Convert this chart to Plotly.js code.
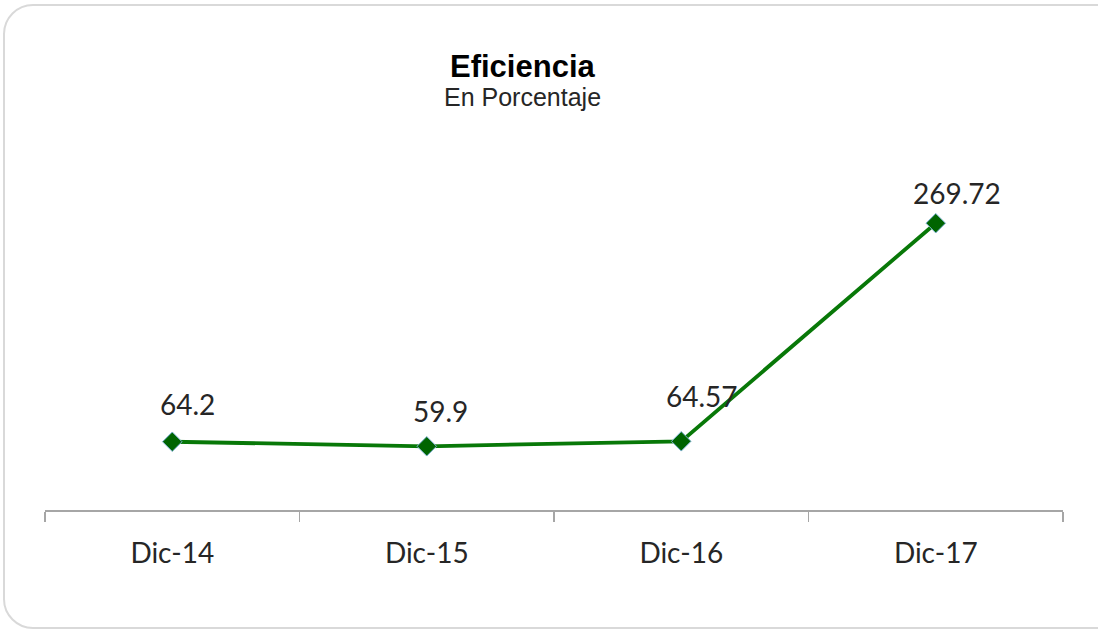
<!DOCTYPE html>
<html>
<head>
<meta charset="utf-8">
<script src="https://cdn.plot.ly/plotly-3.0.1.min.js"></script>
<style>
  html, body { margin: 0; padding: 0; background: #ffffff; overflow: hidden; }
  #wrap { position: relative; width: 1098px; height: 631px; }
  #chart { position: absolute; left: 0; top: 0; width: 1098px; height: 631px; }
  #frame {
    position: absolute; left: 3px; top: 4px; width: 1120px; height: 621px;
    border: 2px solid #d9d9d9; border-radius: 30px; pointer-events: none;
  }
</style>
</head>
<body>
<div id="wrap">
  <div id="chart"></div>
  <div id="frame"></div>
</div>
<script>
// Eficiencia (en porcentaje) por cierre de año
const periods = ['Dic-14', 'Dic-15', 'Dic-16', 'Dic-17'];
const efficiency = [64.2, 59.9, 64.57, 269.72];
const valueLabels = ['64.2', '59.9', '64.57', '269.72'];

// label placement relative to each marker (pixels)
const labelDx = [15, 14, 21, 21];
const labelDy = [38, 35, 45, 30];

const textColor = '#262626';
const labelFont = { family: 'Lato, "Open Sans", sans-serif', size: 28, color: textColor };

const trace = {
  type: 'scatter',
  mode: 'lines+markers',
  x: periods,
  y: efficiency,
  line: { color: '#087808', width: 3.8 },
  marker: {
    symbol: 'diamond',
    size: 15,
    color: '#006400',
    line: { color: '#7fb3d5', width: 1 }
  },
  cliponaxis: false,
  hoverinfo: 'skip'
};

const annotations = periods.map((p, i) => ({
  x: p, y: efficiency[i], xref: 'x', yref: 'y',
  text: valueLabels[i], showarrow: false,
  xanchor: 'center', yanchor: 'middle',
  xshift: labelDx[i], yshift: labelDy[i],
  font: labelFont
}));

annotations.push({
  xref: 'paper', yref: 'paper', x: 0.4695, y: (510 - 66) / 319,
  xanchor: 'center', yanchor: 'middle', showarrow: false,
  text: '<b>Eficiencia</b>',
  font: { family: '"Liberation Sans", Arial, sans-serif', size: 31, color: '#000000' }
});
annotations.push({
  xref: 'paper', yref: 'paper', x: 0.4695, y: (510 - 97) / 319,
  xanchor: 'center', yanchor: 'middle', showarrow: false,
  text: 'En Porcentaje',
  font: { family: '"Liberation Sans", Arial, sans-serif', size: 25, color: textColor }
});

const layout = {
  width: 1098, height: 631,
  margin: { l: 45, r: 35, t: 191, b: 121 },
  paper_bgcolor: 'rgba(0,0,0,0)',
  plot_bgcolor: 'rgba(0,0,0,0)',
  showlegend: false,
  xaxis: {
    type: 'category',
    range: [-0.5, 3.5],
    tickson: 'boundaries',
    ticks: 'outside', ticklen: 10, tickwidth: 1.5, tickcolor: '#a6a6a6',
    showline: true, linecolor: '#a6a6a6', linewidth: 1.5,
    showgrid: false, zeroline: false,
    tickfont: labelFont,
    ticklabelstandoff: 18,
    fixedrange: true
  },
  yaxis: {
    range: [0, 300], visible: false, showgrid: false, zeroline: false, fixedrange: true
  },
  annotations: annotations
};

Plotly.newPlot('chart', [trace], layout, { staticPlot: true, displayModeBar: false });
</script>
</body>
</html>
